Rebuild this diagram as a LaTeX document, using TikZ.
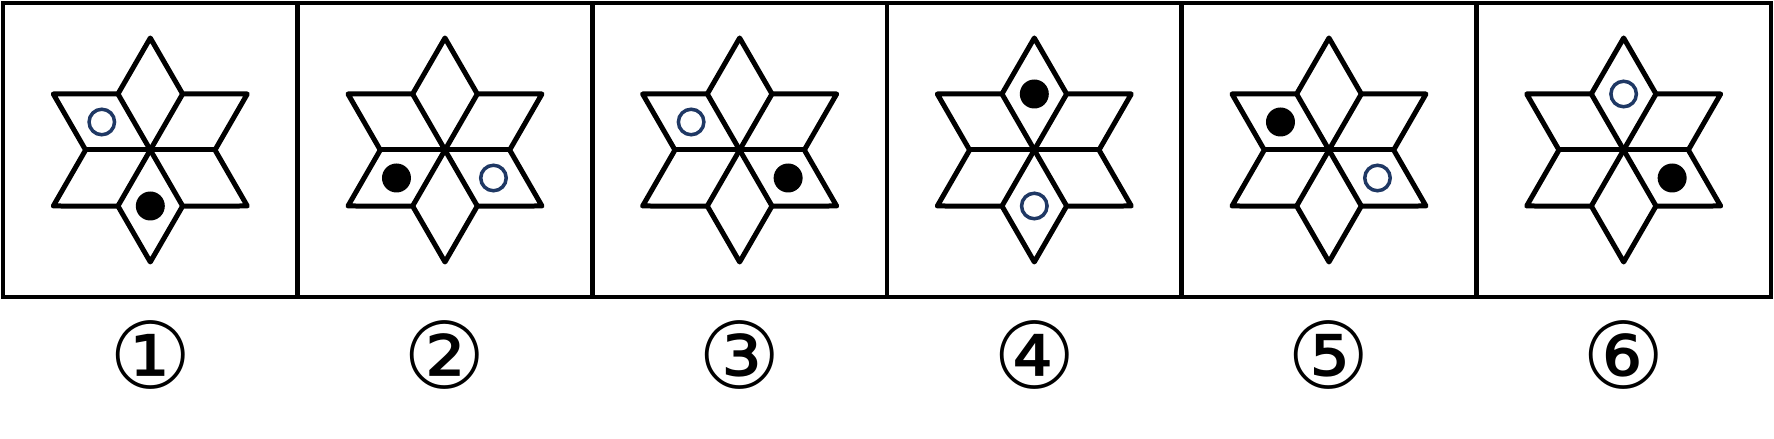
\documentclass[tikz,border=0pt]{standalone}
\usepackage{fontspec}
\newfontfamily\symfont{DejaVu Sans}
\definecolor{ringblue}{HTML}{1F3864}
\tikzset{
    starline/.style={line width=2.5pt, line join=round, line cap=round},
    fullball/.style={circle, fill=black, inner sep=0pt, minimum size=14.5pt},
    openring/.style={circle, draw=ringblue, line width=1.75pt, inner sep=0pt, minimum size=12.75pt},
    numlabel/.style={inner sep=0pt, font=\symfont\fontsize{46}{46}\selectfont}
}
\begin{document}
\begin{tikzpicture}[x=0.5pt, y=0.5pt]
    \useasboundingbox (0,0) rectangle (1774,439);
    % frame with six panels
    \draw[line width=2.25pt] (3,142) rectangle (1771,436);
    \foreach \k in {1,...,5}
        \draw[line width=2.25pt] ({3+294.67*\k},142) -- ++(0,294);
    % stars, balls and labels
    \foreach \lab/\open/\full [count=\k from 0] in {①/150/270, ②/330/210, ③/150/330, ④/270/90, ⑤/330/150, ⑥/90/330} {
        \coordinate (c\k) at ({150.3+294.67*\k},289);
        \draw[starline, shift={(c\k)}] (90:112) -- (60:64.7) -- (30:112) -- (0:64.7) -- (-30:112) -- (-60:64.7)
            -- (-90:112) -- (-120:64.7) -- (-150:112) -- (180:64.7) -- (150:112) -- (120:64.7) -- cycle;
        \foreach \a in {0,60,...,300}
            \draw[starline] (c\k) -- ++(\a:64.7);
        \path (c\k) ++(\open:56) node[openring] (o\k) {};
        \path (c\k) ++(\full:56) node[fullball] (f\k) {};
        \node[numlabel] (n\k) at ({150.3+294.67*\k},84) {\lab};
    }
\end{tikzpicture}
\end{document}
